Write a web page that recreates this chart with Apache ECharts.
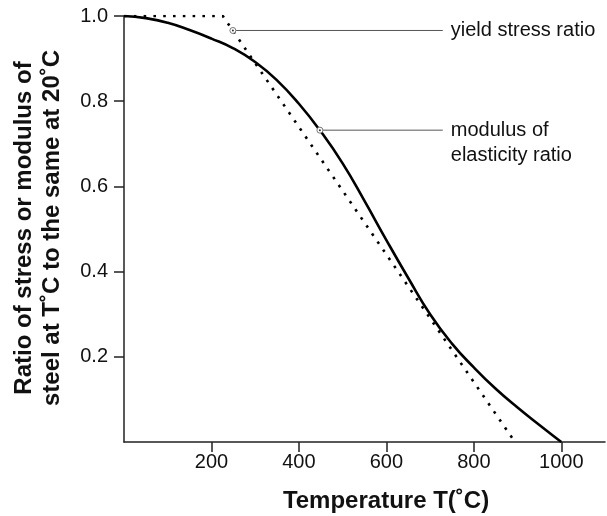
<!DOCTYPE html>
<html>
<head>
<meta charset="utf-8">
<title>steel ratio</title>
<script src="https://cdn.jsdelivr.net/npm/echarts@6/dist/echarts.min.js"></script>
<style>
	html,body{margin:0;padding:0;background:#fff;}
	#chart{width:607px;height:516px;}
</style>
</head>
<body>
<div id="chart"></div>
<script>
// 弹性模量比 (实线)
var modulusTemps = [0, 50, 100, 150, 200, 250, 300, 350, 400, 450, 500, 550, 600, 650, 700, 750, 800, 850, 900, 950, 1000];
var modulusRatio = [1.0, 0.995, 0.984, 0.967, 0.947, 0.924, 0.892, 0.849, 0.794, 0.729, 0.654, 0.566, 0.474, 0.385, 0.300, 0.231, 0.175, 0.125, 0.081, 0.040, 0];
// 屈服强度比 (虚线)
var yieldTemps = [0, 226, 894];
var yieldRatio = [1.0, 1.0, 0];
var xTicks = [200, 400, 600, 800, 1000];
var yTicks = [0.2, 0.4, 0.6, 0.8, 1.0];
var noteTexts = ["yield stress ratio", "modulus of\nelasticity ratio"];
var noteTemps = [249, 448];
var noteRatios = [0.966, 0.732];
var noteEndTemp = 729;

;(function(win){

	var FONT = '"Liberation Sans", Arial, sans-serif';

	function pairs(xs, ys){
		var out = [];
		for(var i=0; i<xs.length; i++){
			out.push([xs[i], ys[i]]);
		}
		return out;
	}

	function drawNotes(chart){
		var els = [];
		for(var i=0; i<noteTexts.length; i++){
			var p = chart.convertToPixel({gridIndex:0}, [noteTemps[i], noteRatios[i]]);
			var e = chart.convertToPixel({gridIndex:0}, [noteEndTemp, noteRatios[i]]);
			els.push({type:'line', z:10, shape:{x1:p[0], y1:p[1], x2:e[0], y2:p[1]}, style:{stroke:'#555', lineWidth:1}});
			els.push({type:'circle', z:11, shape:{cx:p[0], cy:p[1], r:3}, style:{fill:'#fff', stroke:'#777', lineWidth:1}});
			els.push({type:'circle', z:12, shape:{cx:p[0], cy:p[1], r:1}, style:{fill:'#333'}});
			els.push({type:'text', z:12, x:e[0]+8, y:p[1]-12.5, style:{
				text:noteTexts[i], fill:'#111', font:'20px ' + FONT, lineHeight:25, verticalAlign:'top', align:'left'
			}});
		}
		// 坐标轴标题
		els.push({type:'text', x:386, y:501, style:{
			text:'Temperature T(˚C)', fill:'#111', font:'bold 24px ' + FONT, align:'center', verticalAlign:'middle'
		}});
		els.push({type:'text', x:38, y:228, rotation:Math.PI/2, style:{
			text:'Ratio of stress or modulus of\nsteel at T˚C to the same at 20˚C', fill:'#111',
			font:'bold 24px ' + FONT, lineHeight:28, align:'center', verticalAlign:'middle'
		}});
		chart.setOption({graphic:{elements:els}});
	}

	function initChart(){
		var myChart = echarts.init(document.getElementById('chart'), null, {renderer:'canvas'});
		var option = {
			backgroundColor:'#fff',
			animation:false,
			grid:{left:124, top:16, right:2, bottom:74, containLabel:false},
			xAxis:{
				type:'value',
				min:0,
				max:1100,
				interval:200,
				axisLine:{show:true, lineStyle:{color:'#222', width:1.5}},
				axisTick:{show:true, length:10, customValues:xTicks, lineStyle:{color:'#222', width:1.5}},
				axisLabel:{customValues:xTicks, margin:10, color:'#111', fontSize:20, fontFamily:FONT,
					formatter:function(v){ return String(v); }},
				splitLine:{show:false}
			},
			yAxis:{
				type:'value',
				min:0,
				max:1,
				interval:0.2,
				axisLine:{show:true, lineStyle:{color:'#222', width:1.5}},
				axisTick:{show:true, length:10, customValues:yTicks, lineStyle:{color:'#222', width:1.5}},
				axisLabel:{customValues:yTicks, margin:16, color:'#111', fontSize:20, fontFamily:FONT,
					formatter:function(v){ return v.toFixed(1); }},
				splitLine:{show:false}
			},
			series:[
				{
					name:'modulus of elasticity ratio',
					type:'line',
					data:pairs(modulusTemps, modulusRatio),
					smooth:0.5,
					showSymbol:false,
					lineStyle:{color:'#000', width:2.6}
				},
				{
					name:'yield stress ratio',
					type:'line',
					data:pairs(yieldTemps, yieldRatio),
					showSymbol:false,
					lineStyle:{color:'#000', width:2.6, type:[2.6, 7.2], cap:'butt'}
				}
			]
		};
		myChart.setOption(option);
		drawNotes(myChart);
	}

	var Main = {
		init : function(){
			initChart();
		}
	};
	win["Main"] = Main;
})(window);

Main.init();
</script>
</body>
</html>
